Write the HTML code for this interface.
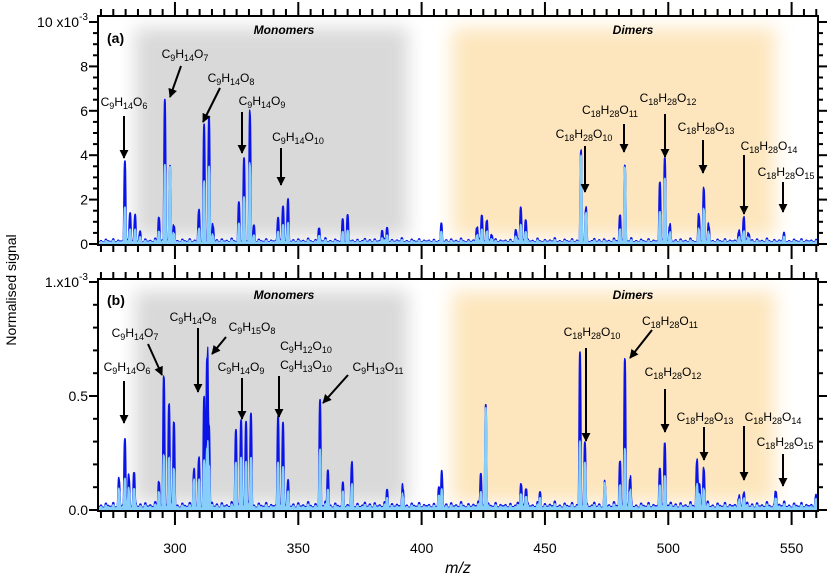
<!DOCTYPE html>
<html><head><meta charset="utf-8"><style>
html,body{margin:0;padding:0;background:#fff;}
svg{display:block;font-family:"Liberation Sans",Arial,sans-serif;}
</style></head><body>
<svg id="chart" width="834" height="576" viewBox="0 0 834 576" xmlns="http://www.w3.org/2000/svg">
<defs>
<filter id="blur" x="-20%" y="-20%" width="140%" height="140%"><feGaussianBlur stdDeviation="9"/></filter>
<marker id="ah" viewBox="0 0 10 10" refX="9" refY="5" markerWidth="4.5" markerHeight="4.5" orient="auto"><path d="M0,0 L10,5 L0,10 z" fill="#000"/></marker>
</defs>
<g id="bg"></g>
<g id="marks"></g>
<g id="axes"></g>
<g id="labels"></g>
</svg>
<script>
// ---- data (values in 1e-3 normalised signal) ----
const mzA   = [279.7,281.8,283.8,285.8,293.5,295.9,298.0,299.6,309.7,311.8,313.8,315.4,325.9,328.0,330.4,332.0,341.8,343.8,345.8,358.4,368.0,370.0,384.0,386.0,408.0,422.4,424.4,426.4,428.4,438.2,440.2,442.2,464.6,466.6,480.4,482.4,496.6,498.6,500.6,512.4,514.4,516.4,528.6,530.6,532.6,546.8];
const darkA = [3.65,1.3,1.1,0.4,1.1,6.4,3.4,0.7,1.4,5.2,5.6,0.7,1.7,3.7,5.8,0.7,1.1,1.6,1.8,0.6,0.9,1.15,0.5,0.6,0.7,0.6,1.2,0.95,0.3,0.5,1.55,1.0,4.1,1.5,1.2,3.45,2.7,3.8,0.7,1.2,2.4,0.7,0.45,1.1,0.35,0.25];
const lightA= [1.6,0.6,0.5,0.2,0.5,3.5,3.4,0.4,0.6,2.7,3.4,0.3,0.8,2.0,3.5,0.3,0.5,0.8,0.8,0.3,0.4,0.5,0.2,0.3,0.4,0.3,0.6,0.5,0.15,0.25,0.8,0.5,3.9,1.3,0.6,3.4,1.4,2.9,0.4,0.6,1.5,0.4,0.2,0.5,0.2,0.15];
const mzB   = [277.3,279.7,281.3,283.4,293.5,295.5,297.6,299.6,307.7,309.7,311.8,313.0,313.8,324.7,326.8,328.8,330.8,341.8,343.8,345.8,358.8,362.0,368.1,371.7,386.0,392.4,407.0,408.2,424.0,426.0,440.3,442.3,448.0,464.2,466.2,474.3,480.4,482.4,484.5,496.6,498.6,511.6,512.6,514.4,528.6,530.6,543.6,559.8];
const darkB = [0.12,0.30,0.13,0.145,0.11,0.57,0.45,0.37,0.16,0.21,0.47,0.65,0.35,0.34,0.38,0.37,0.41,0.40,0.37,0.10,0.46,0.16,0.09,0.19,0.07,0.08,0.08,0.14,0.145,0.45,0.10,0.08,0.06,0.675,0.285,0.10,0.20,0.65,0.12,0.17,0.28,0.20,0.10,0.165,0.04,0.06,0.065,0.04];
const lightB= [0.08,0.13,0.08,0.08,0.07,0.23,0.22,0.17,0.12,0.12,0.2,0.26,0.18,0.2,0.22,0.2,0.22,0.2,0.18,0.06,0.25,0.08,0.06,0.1,0.04,0.05,0.05,0.07,0.07,0.44,0.06,0.05,0.04,0.29,0.2,0.10,0.1,0.26,0.07,0.1,0.14,0.1,0.06,0.08,0.03,0.04,0.04,0.03];
// small baseline peaks, cycled over each nominal mass (fraction of panel base level)
const noise = [1.2,0.4,1.6,0.5,1.0,2.0,0.6,1.4,0.3,1.8,0.7,1.1,0.5,2.2,0.9,0.4,1.5,0.6,1.3,0.8,2.4,0.5,1.0,0.3,1.7,0.9,0.6,1.9,0.4,1.2,0.8];
const xTicks = [300,350,400,450,500,550];
const yTicksA = ["0","2","4","6","8","10"];
const yTicksB = ["0.0","0.5","1."];

// ---- scales ----
const X0=98, X1=818, MZ0=268.8, MZ1=560.7;
const x = v => X0 + (v-MZ0)/(MZ1-MZ0)*(X1-X0);
const PA={top:16,bot:245,y0:244,per:22.2,base:0.13};
const PB={top:279,bot:511,y0:510,per:228,base:0.018};
const yA = v => PA.y0 - v*PA.per;
const yB = v => PB.y0 - v*PB.per;
const NS="http://www.w3.org/2000/svg";
function mk(tag,attrs,parent){const e=document.createElementNS(NS,tag);for(const k in attrs)e.setAttribute(k,attrs[k]);parent.appendChild(e);return e;}
const bg=document.getElementById('bg'),marks=document.getElementById('marks'),axes=document.getElementById('axes'),labels=document.getElementById('labels');

[[PA],[PB]].forEach(([P],i)=>{
  const g=mk('rect',{x:135,y:P.top+12,width:273,height:P.bot-P.top-20,fill:'#d9d9d9',filter:'url(#blur)'},bg);
  
  
  const o=mk('rect',{x:452,y:P.top+12,width:323,height:P.bot-P.top-20,fill:'#fde6be',filter:'url(#blur)'},bg);
  
  
});

function spectrum(mzs,vals,base,ys,color,name,bot){
  let d=`M${X0},${bot}`;
  const w=0.5;
  for(let m=MZ0;m<=MZ1;m+=0.1){
    const n=Math.round(m), tn=(m-n)/0.45;
    let s=base*0.5+base*0.7*noise[((n%noise.length)+noise.length)%noise.length]*Math.exp(-tn*tn*tn*tn);
    for(let i=0;i<mzs.length;i++){const t=(m-mzs[i])/w;if(Math.abs(t)<4)s+=vals[i]*Math.exp(-t*t*t*t);}
    d+=`L${x(m).toFixed(2)},${Math.max(ys(s),0).toFixed(2)}`;
  }
  d+=`L${X1},${bot}Z`;
  const p=mk('path',{d:d,fill:color,stroke:color,'stroke-width':1.2,'stroke-linejoin':'round'},marks);
  
  
}
spectrum(mzA,darkA,PA.base,yA,'#0a14e6','spectrum-a-total',PA.bot);
spectrum(mzA,lightA,PA.base*0.7,yA,'#87cefa','spectrum-a-component',PA.bot);
spectrum(mzB,darkB,PB.base,yB,'#0a14e6','spectrum-b-total',PB.bot);
spectrum(mzB,lightB,PB.base*0.7,yB,'#87cefa','spectrum-b-component',PB.bot);

function frame(P,name){
  const r=mk('rect',{x:X0,y:P.top,width:X1-X0,height:P.bot-P.top,fill:'none',stroke:'#000','stroke-width':2},axes);
  
  
  for(let m=270;m<=560;m+=5){
    const major=m%50===0, L=major?14:7, xx=x(m);
    mk('line',{x1:xx,x2:xx,y1:P.top,y2:P.top-L,stroke:'#000','stroke-width':2},axes);
    mk('line',{x1:xx,x2:xx,y1:P.bot,y2:P.bot+L,stroke:'#000','stroke-width':2},axes);
  }
}
frame(PA,'panel-a-frame');frame(PB,'panel-b-frame');
for(let v=0;v<=10;v+=0.5){const yy=yA(v),L=(v%2===0)?9:5;
  mk('line',{x1:X0,x2:X0-L,y1:yy,y2:yy,stroke:'#000','stroke-width':2},axes);
  mk('line',{x1:X1,x2:X1+L,y1:yy,y2:yy,stroke:'#000','stroke-width':2},axes);}
for(let k=0;k<=10;k++){const v=k/10,yy=yB(v),L=(k%5===0)?9:5;
  mk('line',{x1:X0,x2:X0-L,y1:yy,y2:yy,stroke:'#000','stroke-width':2},axes);
  mk('line',{x1:X1,x2:X1+L,y1:yy,y2:yy,stroke:'#000','stroke-width':2},axes);}
function txt(s,xx,yy,attrs,name){const t=mk('text',Object.assign({x:xx,y:yy,'font-size':14,fill:'#000'},attrs||{}),labels);t.innerHTML=s;
  
  return t;}
xTicks.forEach(v=>txt(String(v),x(v),553,{'text-anchor':'middle'},'x-tick-label'));
yTicksA.forEach((s,i)=>{txt(s+(i===5?' x10<tspan font-size="10" dy="-7">-3</tspan>':''),88,yA(i*2)+5,{'text-anchor':'end'},'y-tick-label-a');});
yTicksB.forEach((s,i)=>{txt(s+(i===2?'x10<tspan font-size="10" dy="-7">-3</tspan>':''),88,yB(i*0.5)+5,{'text-anchor':'end'},'y-tick-label-b');});
txt('Normalised signal',0,0,{'text-anchor':'middle',transform:'translate(16,290) rotate(-90)'},'y-axis-title');
txt('<tspan font-style="italic">m/z</tspan>',458,573,{'text-anchor':'middle','font-size':16},'x-axis-title');
txt('(a)',107,43,{'font-weight':'bold','font-size':14},'panel-a-label');
txt('(b)',107,305,{'font-weight':'bold','font-size':14},'panel-b-label');
txt('Monomers',284,34,{'text-anchor':'middle','font-weight':'bold','font-style':'italic','font-size':12},'monomers-title-a');
txt('Dimers',633,34,{'text-anchor':'middle','font-weight':'bold','font-style':'italic','font-size':12},'dimers-title-a');
txt('Monomers',284,299,{'text-anchor':'middle','font-weight':'bold','font-style':'italic','font-size':12},'monomers-title-b');
txt('Dimers',633,299,{'text-anchor':'middle','font-weight':'bold','font-style':'italic','font-size':12},'dimers-title-b');

function f(c,h,o){return `C<tspan font-size="9" dy="3">${c}</tspan><tspan dy="-3">H</tspan><tspan font-size="9" dy="3">${h}</tspan><tspan dy="-3">O</tspan><tspan font-size="9" dy="3">${o}</tspan>`;}
const ann=[
 [f(9,14,6),124,106,124,116,124,158],[f(9,14,7),185,58,181,66,170,97],[f(9,14,8),231,82,220,88,203,122],
 [f(9,14,9),262,105,242,112,242,153],[f(9,14,10),298,141,281,148,281,185],
 [f(18,28,10),584,138,585,146,585,192],[f(18,28,11),610,114,624,124,624,152],[f(18,28,12),668,102,665,114,665,157],
 [f(18,28,13),706,131,703,140,703,173],[f(18,28,14),769,150,744,155,744,214],[f(18,28,15),786,176,783,182,783,212],
 [f(9,14,6),127,371,124,381,124,423],[f(9,14,7),135,337,148,344,162,375],[f(9,14,8),193,321,198,328,198,392],
 [f(9,15,8),252,331,226,337,212,354],[f(9,14,9),241,371,242,378,242,419],[f(9,12,10),306,350,null],[f(9,13,10),306,369,279,376,279,417],
 [f(9,13,11),378,371,348,375,323,403],
 [f(18,28,10),592,336,586,348,586,441],[f(18,28,11),670,325,652,330,630,358],[f(18,28,12),673,376,665,389,665,432],
 [f(18,28,13),705,421,704,427,704,460],[f(18,28,14),773,421,744,426,744,480],[f(18,28,15),785,446,783,454,783,486]
];
ann.forEach(a=>{
  txt(a[0],a[1],a[2],{'text-anchor':'middle','font-size':12},'formula-label');
  if(a[3]!==null&&a[3]!==undefined){const l=mk('line',{x1:a[3],y1:a[4],x2:a[5],y2:a[6],stroke:'#000','stroke-width':2,'marker-end':'url(#ah)'},labels);
    
    }
});
</script>
</body></html>
